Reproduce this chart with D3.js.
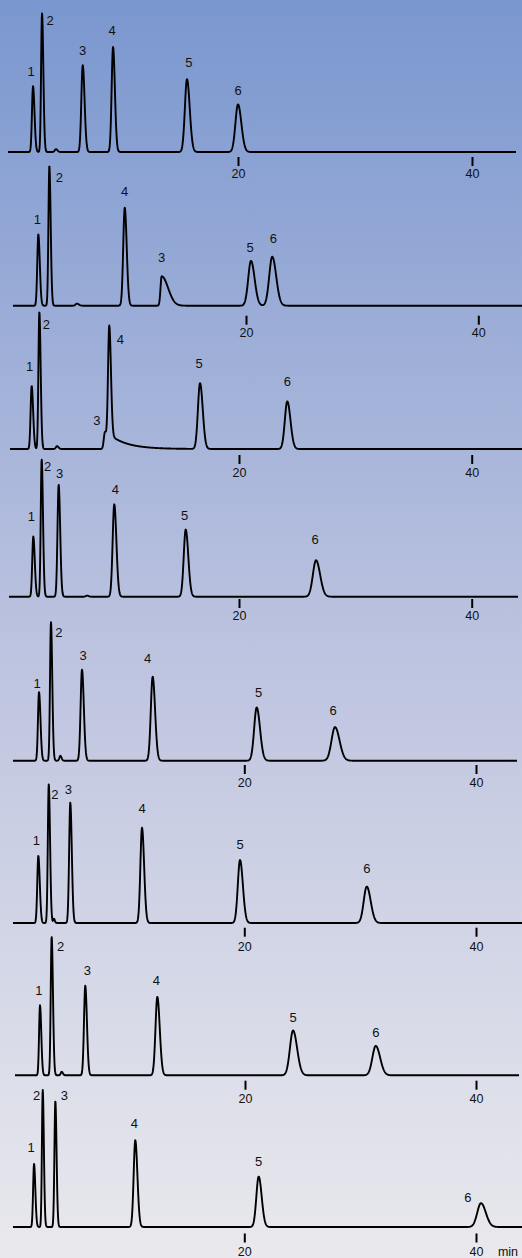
<!DOCTYPE html>
<html><head><meta charset="utf-8">
<script src="https://cdn.jsdelivr.net/npm/d3@7"></script>
<style>html,body{margin:0;padding:0;background:#fff}svg{display:block}</style>
</head><body>
<script>
// ---------------- DATA ----------------
const peakLabels = ["1", "2", "3", "4", "5", "6"];
// retention time (min) of peaks 1..6 in each of the 8 chromatograms
const retentionTimes = [
  [2.48, 3.25, 6.73, 9.32, 15.64, 20.00],
  [2.12, 3.07, 12.74, 9.56, 20.43, 22.26],
  [2.18, 2.84, 8.48, 8.85, 16.65, 24.15],
  [2.32, 3.04, 4.50, 9.28, 15.42, 26.62],
  [2.28, 3.31, 5.99, 12.09, 21.07, 27.83],
  [2.22, 3.12, 4.98, 11.17, 19.63, 30.57],
  [2.25, 3.26, 6.17, 12.41, 24.16, 31.32],
  [1.85, 2.60, 3.69, 10.59, 21.24, 40.43]
];
// peak heights (relative detector response)
const peakHeights = [
  [47, 99, 62, 75, 52, 34],
  [51, 100, 21, 70, 32, 35],
  [45, 98, 12, 88, 47, 34],
  [43, 98, 80, 66, 48, 26],
  [49, 99, 65, 60, 38, 24],
  [48, 99, 86, 68, 45, 26],
  [50, 99, 64, 56, 32, 21],
  [45, 98, 90, 62, 36, 17]
];
// peak widths (sigma, min)
const peakWidths = [
  [0.09, 0.08, 0.12, 0.12, 0.18, 0.22],
  [0.09, 0.08, 0.10, 0.13, 0.24, 0.26],
  [0.09, 0.08, 0.10, 0.11, 0.18, 0.21],
  [0.09, 0.08, 0.10, 0.14, 0.17, 0.27],
  [0.09, 0.08, 0.12, 0.16, 0.22, 0.30],
  [0.09, 0.08, 0.10, 0.14, 0.19, 0.26],
  [0.08, 0.08, 0.11, 0.16, 0.27, 0.29],
  [0.08, 0.07, 0.08, 0.14, 0.20, 0.32]
];
// tailing factor (right width / left width)
const peakTailing = [
  [1.4, 1.4, 1.3, 1.3, 1.3, 1.3],
  [1.4, 1.4, 5.5, 1.3, 1.3, 1.3],
  [1.4, 1.4, 1.3, 1.3, 1.3, 1.3],
  [1.4, 1.4, 1.3, 1.3, 1.3, 1.3],
  [1.4, 1.4, 1.3, 1.3, 1.3, 1.3],
  [1.4, 1.4, 1.3, 1.3, 1.3, 1.3],
  [1.4, 1.4, 1.3, 1.3, 1.3, 1.3],
  [1.4, 1.4, 1.3, 1.3, 1.3, 1.3]
];
// long exponential tail: [chromatogram, peak, fraction, tau(min)]
const exponentialTails = [[2, 3, 0.12, 1.5]];
// small unlabelled system peaks: [time, height, sigma]
const minorPeaks = [
  [[4.44, 2, 0.10]],
  [[5.45, 1.5, 0.12]],
  [[4.36, 2, 0.10]],
  [[6.94, 0.8, 0.10]],
  [[4.12, 3.5, 0.08]],
  [[3.57, 3, 0.06]],
  [[4.13, 2.5, 0.08]],
  []
];
const tickValues = [20, 40];
const timeUnit = "min";

// ---------------- LAYOUT ----------------
const W = 522, H = 1258;
const panels = [
  {base: 152.0, tickTop: 157, labelY: 174, x20: 238.0, x40: 472.0, xs: 8, xe: 516},
  {base: 305.7, tickTop: 315.7, labelY: 333, x20: 246.0, x40: 478.3, xs: 13, xe: 522},
  {base: 449.0, tickTop: 455, labelY: 473, x20: 239.0, x40: 471.7, xs: 10, xe: 522},
  {base: 596.7, tickTop: 599, labelY: 615.7, x20: 239.0, x40: 471.7, xs: 9, xe: 518},
  {base: 760.7, tickTop: 765, labelY: 783, x20: 244.3, x40: 476.0, xs: 13, xe: 517},
  {base: 923.0, tickTop: 927.7, labelY: 946.7, x20: 244.3, x40: 476.0, xs: 13, xe: 522},
  {base: 1075.3, tickTop: 1080.7, labelY: 1099, x20: 245.0, x40: 476.0, xs: 15, xe: 519},
  {base: 1227.0, tickTop: 1233.5, labelY: 1251.5, x20: 244.3, x40: 476.0, xs: 13, xe: 522}
];
// label offsets (px) relative to peak apex
const labelOffsets = [
  [[-2,-15],[8,7],[0,-15],[-1,-17],[2,-17],[0,-14]],
  [[-1,-15],[10,12],[0,-19],[0,-16],[-1,-14],[1,-18]],
  [[-2,-20],[7,13],[-8,-11],[11,14],[-1,-20],[0,-20]],
  [[-2,-20],[6,7],[1,-11],[1,-15],[-1,-14],[-1,-21]],
  [[-2,-9],[8,10],[1,-14],[-5,-18],[2,-15],[-2,-17]],
  [[-2,-15],[6,10],[-2,-13],[0,-19],[0,-16],[0,-18]],
  [[-1,-15],[9,10],[2,-15],[-1,-17],[0,-13],[0,-14]],
  [[-3,-17],[-6,6],[9,-6],[-1,-17],[0,-15],[-13,-6]]
];
const TICK_LEN = 9, FS_TICK = 12.5, FS_LABEL = 13;
const FONT = "'Liberation Sans', Arial, Helvetica, sans-serif";

const svg = d3.select("body").append("svg").attr("width", W).attr("height", H);
const defs = svg.append("defs");
const grad = defs.append("linearGradient").attr("id", "bg")
  .attr("x1", 0).attr("y1", 0).attr("x2", 0).attr("y2", 1);
grad.append("stop").attr("offset", "0%").attr("stop-color", "#7a97cf");
grad.append("stop").attr("offset", "50%").attr("stop-color", "#bbc2df");
grad.append("stop").attr("offset", "100%").attr("stop-color", "#e9e9ed");
svg.append("rect").attr("width", W).attr("height", H).attr("fill", "url(#bg)");

function peakValue(t, t0, h, s, tail, ex) {
  const d = t - t0;
  if (d <= 0) return h * Math.exp(-d * d / (2 * s * s));
  const sr = s * tail;
  const g = Math.exp(-d * d / (2 * sr * sr));
  if (ex) {
    const f = ex[0], tau = ex[1];
    return h * ((1 - f) * g + f * Math.exp(-d / tau));
  }
  return h * g;
}

panels.forEach((p, i) => {
  const x = d3.scaleLinear().domain(tickValues).range([p.x20, p.x40]);
  const y = d3.scaleLinear().domain([0, 100]).range([p.base, p.base - 140]);
  const g = svg.append("g");

  const peaks = retentionTimes[i].map((t, k) => {
    const ex = exponentialTails.find(e => e[0] === i && e[1] === k);
    return {t, h: peakHeights[i][k], s: peakWidths[i][k], tail: peakTailing[i][k],
            ex: ex ? [ex[2], ex[3]] : null, label: peakLabels[k]};
  });
  const signal = t => {
    let v = 0;
    peaks.forEach(pk => { v += peakValue(t, pk.t, pk.h, pk.s, pk.tail, pk.ex); });
    minorPeaks[i].forEach(m => { v += peakValue(t, m[0], m[1], m[2], 1.3, null); });
    return v;
  };
  const t0 = x.invert(p.xs), t1 = x.invert(p.xe);
  const pts = [];
  const n = Math.round((p.xe - p.xs) * 4);
  for (let j = 0; j <= n; j++) {
    const t = t0 + (t1 - t0) * j / n;
    pts.push([t, signal(t)]);
  }
  g.append("path")
    .attr("d", d3.line().x(d => x(d[0])).y(d => y(d[1]))(pts))
    .attr("fill", "none").attr("stroke", "#000").attr("stroke-width", 1.9)
    .attr("stroke-linejoin", "round");

  // axis ticks
  const pad = p.labelY - 0.36 * FS_TICK - p.tickTop - TICK_LEN;
  const axis = d3.axisBottom(x).tickValues(tickValues).tickSizeInner(TICK_LEN)
    .tickSizeOuter(0).tickPadding(pad).tickFormat(d3.format("d"));
  const ag = g.append("g").attr("transform", `translate(0,${p.tickTop})`).call(axis);
  ag.select(".domain").remove();
  ag.selectAll(".tick line").attr("stroke", "#000").attr("stroke-width", 2);
  ag.selectAll(".tick text").attr("fill", "#111").style("font-family", FONT)
    .style("font-size", FS_TICK + "px");
  ag.attr("font-family", null).attr("font-size", null);

  // peak labels
  peaks.forEach((pk, k) => {
    const off = labelOffsets[i][k];
    g.append("text")
      .attr("x", x(pk.t) + off[0])
      .attr("y", y(signal(pk.t)) + off[1])
      .attr("dy", "0.36em")
      .attr("text-anchor", "middle")
      .style("font-family", FONT).style("font-size", FS_LABEL + "px")
      .attr("fill", "#111")
      .text(pk.label);
  });

  if (i === panels.length - 1) {
    g.append("text").attr("x", 508).attr("y", p.labelY).attr("dy", "0.36em")
      .attr("text-anchor", "middle")
      .style("font-family", FONT).style("font-size", FS_TICK + "px")
      .attr("fill", "#111").text(timeUnit);
  }
});
</script>
</body></html>
